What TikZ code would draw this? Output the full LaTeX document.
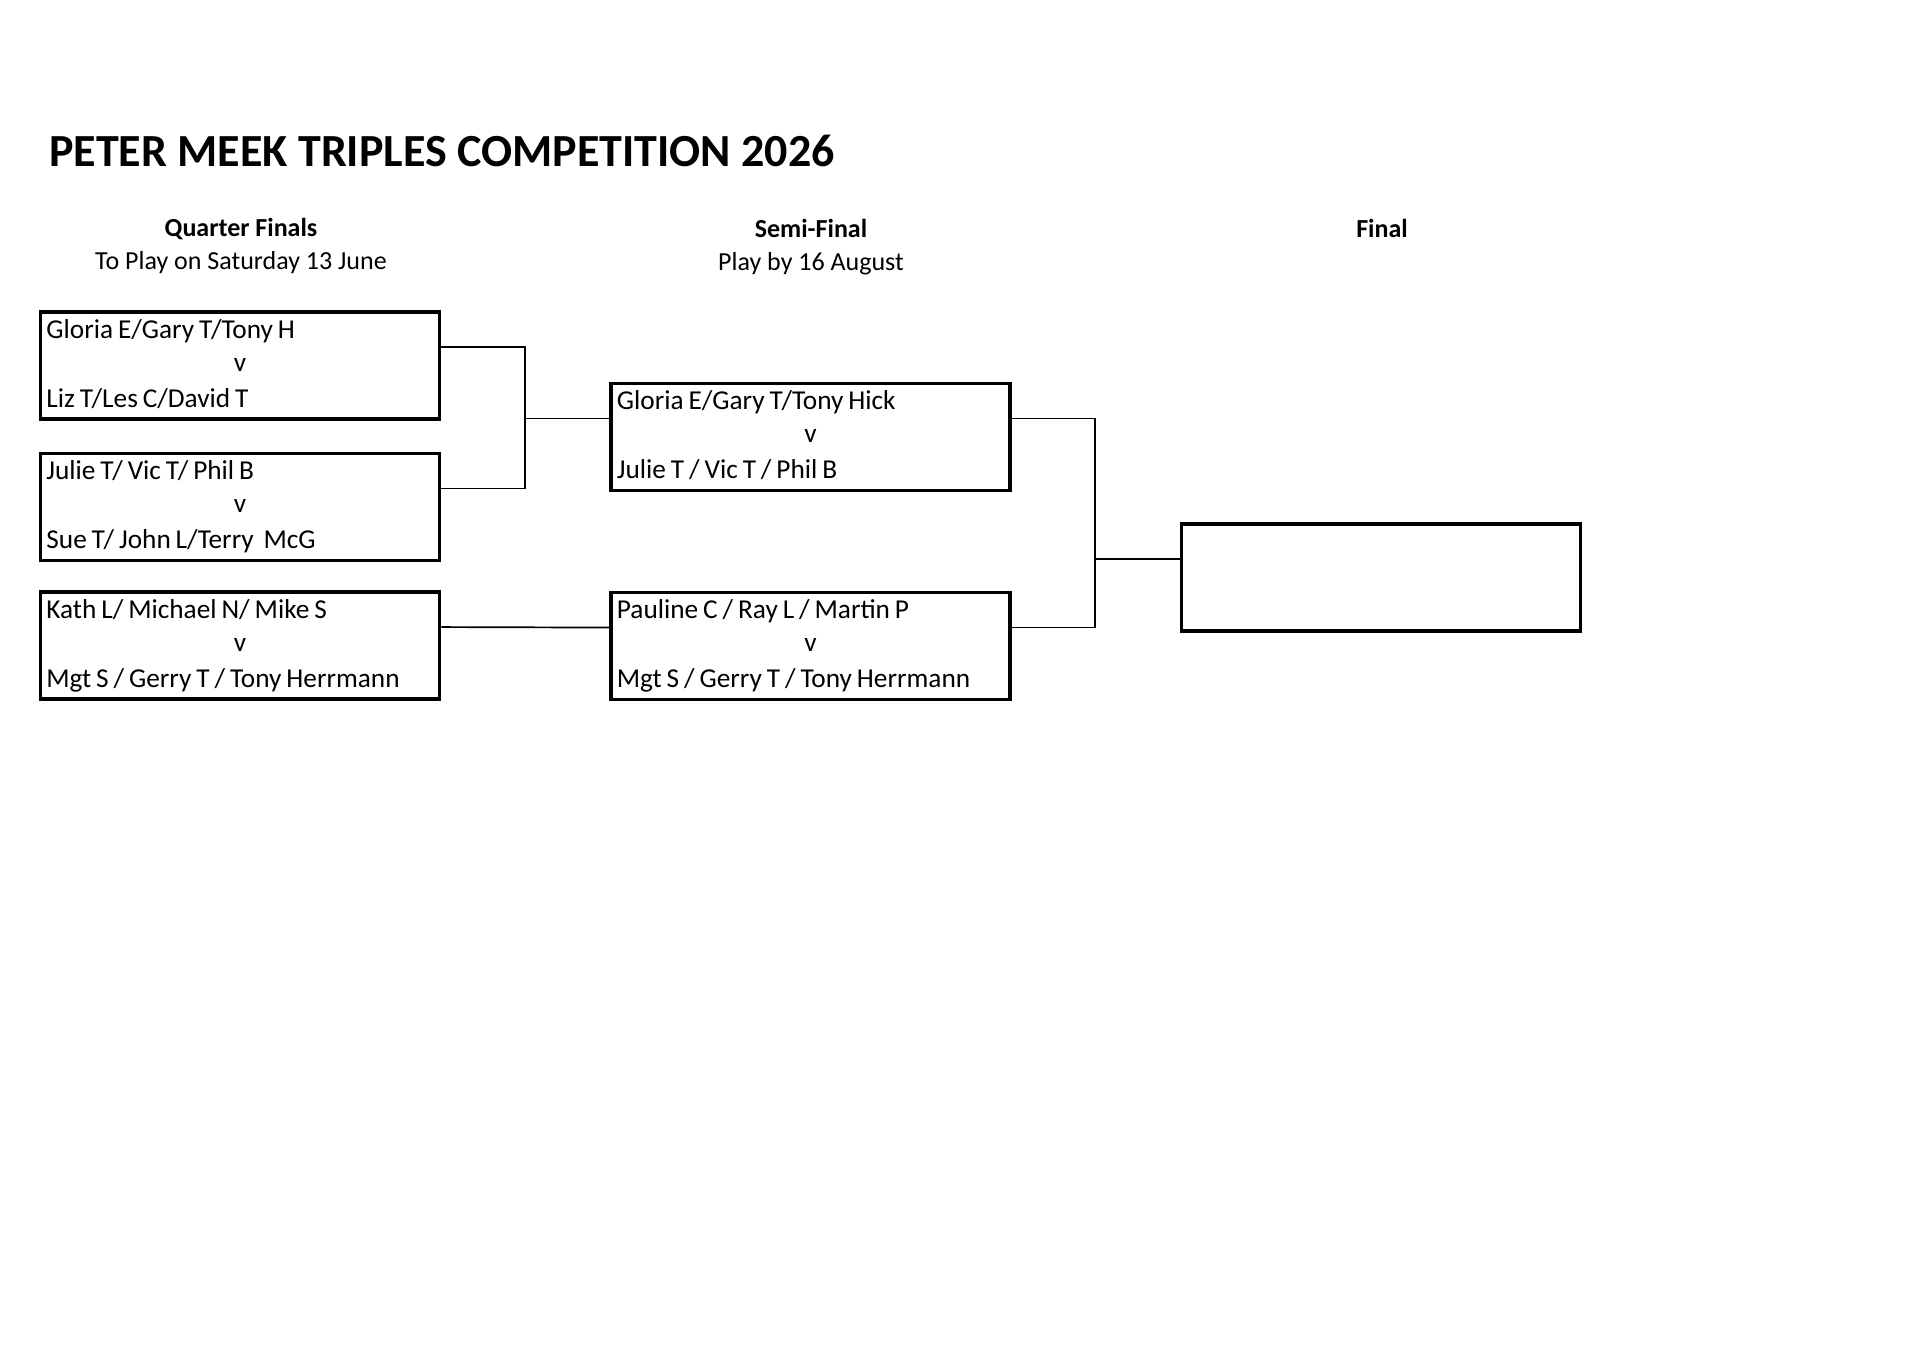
\documentclass[tikz,border=0pt]{standalone}
\usepackage{fontspec}
\setmainfont{Carlito}
\usetikzlibrary{calc}
\newcommand{\tightsp}{\spaceskip=0.18em plus 0.05em minus 0.05em\relax}
\begin{document}
\begin{tikzpicture}[x=1pt,y=-1pt,
  box/.style={draw=black,line width=3.6pt,minimum width=399pt,minimum height=107pt,inner sep=0pt},
  conn/.style={draw=black,line width=1.7pt},
  entry/.style={anchor=base west,inner sep=0pt,font=\fontsize{27.3}{30}\selectfont},
  vs/.style={anchor=base,inner sep=0pt,font=\fontsize{27.3}{30}\selectfont},
  head/.style={anchor=base,inner sep=0pt,font=\fontsize{26}{30}\selectfont\bfseries},
  sub/.style={anchor=base,inner sep=0pt,font=\fontsize{26}{30}\selectfont}]
\useasboundingbox[fill=white] (0,0) rectangle (1920,1357);

\node[anchor=base west,inner sep=0pt,font=\fontsize{46}{50}\selectfont\bfseries] (title) at (49,166) {PETER MEEK TRIPLES COMPETITION 2026};

\node[head] (hq) at (241,236) {Quarter Finals};
\node[sub] (hq2) at (241,269) {To Play on Saturday 13 June};
\node[head] (hs) at (811,237) {Semi-Final};
\node[sub] (hs2) at (811,270) {Play by 16 August};
\node[head] (hf) at (1382,237) {Final};

% boxes
\node[box] (q1) at (240,365.5) {};
\node[box] (q2) at (240,507) {};
\node[box] (q3) at (240,645.5) {};
\node[box] (s1) at (810.5,437) {};
\node[box] (s2) at (810.5,646) {};
\node[box] (f) at (1381,577.5) {};

% texts
\newcommand{\matchtext}[4]{%
  \node[entry] (#1a) at ($(#1.north west)+(7.5,28)$) {\tightsp #2};
  \node[vs] (#1v) at ($(#1.north)+(0,61)$) {#3};
  \node[entry] (#1b) at ($(#1.north west)+(7.5,97)$) {\tightsp #4};}
\matchtext{q1}{Gloria E/Gary T/Tony H}{v}{Liz T/Les C/David T}
\matchtext{q2}{Julie T/ Vic T/ Phil B}{v}{Sue T/ John L/Terry\ \ McG}
\matchtext{q3}{Kath L/ Michael N/ Mike S}{v}{Mgt S / Gerry T / Tony Herrmann}
\matchtext{s1}{Gloria E/Gary T/Tony Hick}{v}{Julie T / Vic T / Phil B}
\matchtext{s2}{Pauline C / Ray L / Martin P}{v}{Mgt S / Gerry T / Tony Herrmann}

% connection points
\coordinate (q1o) at ($(q1.north east)!1/3!(q1.south east)$);
\coordinate (q2o) at ($(q2.north east)!1/3!(q2.south east)$);
\coordinate (q3o) at ($(q3.north east)!1/3!(q3.south east)$);
\coordinate (s1i) at ($(s1.north west)!1/3!(s1.south west)$);
\coordinate (s2i) at ($(s2.north west)!1/3!(s2.south west)$);
\coordinate (s1o) at ($(s1.north east)!1/3!(s1.south east)$);
\coordinate (s2o) at ($(s2.north east)!1/3!(s2.south east)$);
\coordinate (fi) at ($(f.north west)!1/3!(f.south west)$);
\coordinate (jA) at (525,0 |- s1i);
\coordinate (jB) at (1095,0 |- fi);

\draw[conn] (q1o) -| (jA) |- (q2o);
\draw[conn] (jA) -- (s1i);
\draw[conn] (q3o) -- (s2i);
\draw[conn] (s1o) -| (jB) |- (s2o);
\draw[conn] (jB) -- (fi);
\end{tikzpicture}
\end{document}
